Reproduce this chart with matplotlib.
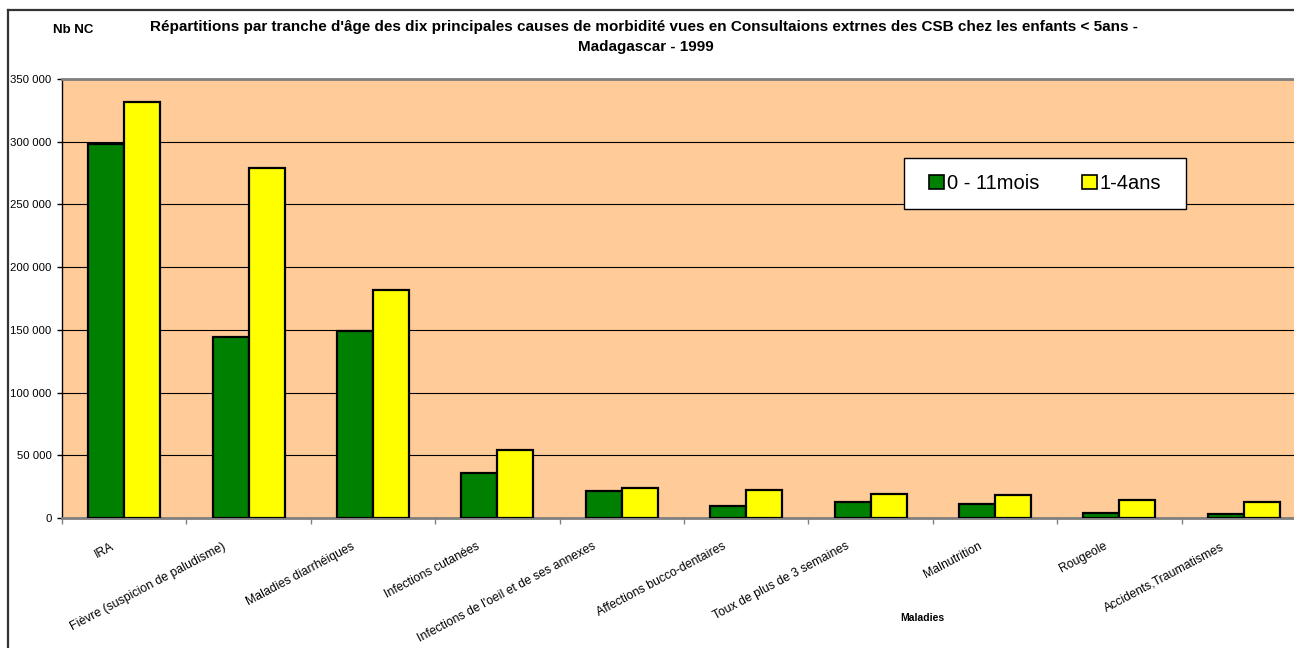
import matplotlib
matplotlib.use("Agg")
import matplotlib.pyplot as plt
import numpy as np
from matplotlib.lines import Line2D
from matplotlib.patches import Patch, Rectangle
from matplotlib.ticker import FuncFormatter, FixedLocator
from matplotlib.transforms import ScaledTranslation

# data
maladies = [
    "IRA",
    "Fièvre (suspicion de paludisme)",
    "Maladies diarrhéiques",
    "Infections cutanées",
    "Infections de l'oeil et de ses annexes",
    "Affections bucco-dentaires",
    "Toux de plus de 3 semaines",
    "Malnutrition",
    "Rougeole",
    "Accidents,Traumatismes",
]
nb_0_11mois = [298500, 144500, 149200, 35600, 21300, 9800, 12500, 11400, 3700, 2900]
nb_1_4ans = [331400, 279000, 181800, 54200, 23900, 22300, 19400, 18300, 14300, 13000]
series_labels = ["0 - 11mois", "1-4ans"]
y_ticks = [0, 50000, 100000, 150000, 200000, 250000, 300000, 350000]

GREEN = "#008000"
YELLOW = "#FFFF00"
PEACH = "#FFCC99"

plt.rcParams["font.family"] = ["Liberation Sans", "DejaVu Sans"]

W, H = 1294, 648
fig = plt.figure(figsize=(W / 100, H / 100), dpi=100)
fig.patch.set_facecolor("white")

# plot area runs past the right edge of the picture, like the original
ax = fig.add_axes([62 / W, (H - 518) / H, 1244 / W, 439 / H])
ax.set_facecolor(PEACH)

x = np.arange(len(maladies)) + 0.5
bw = 0.29
ax.bar(x - bw / 2, nb_0_11mois, bw, color=GREEN, edgecolor="black", linewidth=1.6,
       label=series_labels[0], zorder=3)
ax.bar(x + bw / 2, nb_1_4ans, bw, color=YELLOW, edgecolor="black", linewidth=1.6,
       label=series_labels[1], zorder=3)

ax.set_xlim(0, len(maladies))
ax.set_ylim(0, 350000)
ax.yaxis.set_major_locator(FixedLocator(y_ticks))
ax.yaxis.set_major_formatter(FuncFormatter(lambda v, p: f"{int(v):,}".replace(",", " ")))
ax.grid(axis="y", color="black", linewidth=0.8, zorder=1)
ax.set_axisbelow(True)

ax.set_xticks(np.arange(len(maladies) + 1))
ax.set_xticklabels([])
ax.set_xticks(x, minor=True)
ax.set_xticklabels(maladies, minor=True, rotation=28, ha="right", va="top",
                   rotation_mode="anchor", fontsize=8.8)
ax.tick_params(axis="x", which="minor", length=0, pad=16)
ax.tick_params(axis="x", which="major", length=4, color="#808080", width=1)
ax.tick_params(axis="y", length=3.5, width=1, pad=4, labelsize=8.2, color="black")

# longer labels sit a little further left of their category centre
fig.canvas.draw()
for lab in ax.get_xticklabels(minor=True):
    w = lab.get_window_extent().width
    dx = -(11 + 0.1 * w)
    lab.set_transform(lab.get_transform() + ScaledTranslation(dx / 100, 0, fig.dpi_scale_trans))

for side in ("top", "bottom"):
    ax.spines[side].set_color("#808080")
    ax.spines[side].set_linewidth(2)
ax.spines["left"].set_color("black")
ax.spines["left"].set_linewidth(1)
ax.spines["right"].set_visible(False)

# legend box
fig.add_artist(Rectangle((904 / W, 1 - 209 / H), 282 / W, 51 / H,
                         transform=fig.transFigure, facecolor="white",
                         edgecolor="black", linewidth=1, zorder=4))
handles = [Patch(facecolor=GREEN, edgecolor="black", linewidth=1.2),
           Patch(facecolor=YELLOW, edgecolor="black", linewidth=1.2)]
leg = fig.legend(handles, series_labels, loc="center",
                 bbox_to_anchor=(1045 / W, 1 - 183.5 / H), ncol=2,
                 fontsize=14.5, frameon=False,
                 handlelength=0.75, handleheight=0.75,
                 handletextpad=0.15, columnspacing=2.1, borderpad=0.5,
                 borderaxespad=0)
leg.set_zorder(5)

fig.text(644 / W, 1 - 27 / H,
         "Répartitions par tranche d'âge des dix principales causes de morbidité vues "
         "en Consultaions extrnes des CSB chez les enfants < 5ans -",
         ha="center", va="center", fontsize=11, fontweight="bold")
fig.text(646 / W, 1 - 47 / H, "Madagascar - 1999",
         ha="center", va="center", fontsize=11, fontweight="bold")
fig.text(73 / W, 1 - 30 / H, "Nb NC", ha="center", va="center",
         fontsize=9.5, fontweight="bold")
fig.text(922 / W, 1 - 618 / H, "Maladies", ha="center", va="center",
         fontsize=7.5, fontweight="bold")

# outer chart frame (top and left edges are inside the picture)
fig.add_artist(Line2D([8 / W, 1.01], [1 - 10 / H, 1 - 10 / H], color="#333333", linewidth=1.6))
fig.add_artist(Line2D([8 / W, 8 / W], [1 - 10 / H, -0.01], color="#333333", linewidth=1.6))

fig.savefig("out.png", dpi=100)
